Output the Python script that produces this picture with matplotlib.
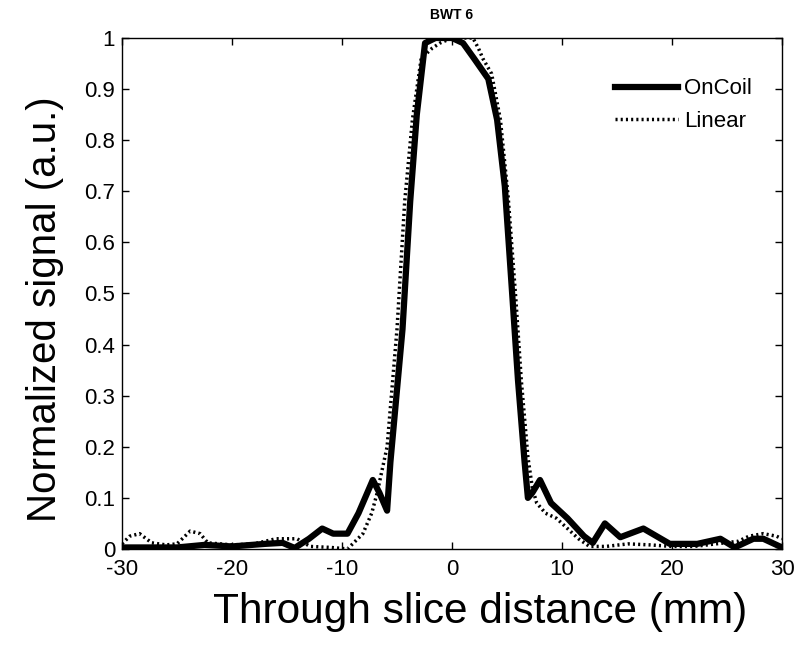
import matplotlib
matplotlib.use("Agg")
import matplotlib.pyplot as plt

plt.rcParams['font.family'] = ['Liberation Sans', 'DejaVu Sans']
plt.rcParams['axes.unicode_minus'] = False

oncoil_x = [-30, -27, -25, -22.5, -20, -17, -15.4, -14.3, -13, -11.8, -10.8, -9.5, -8.5, -7.2, -6.6,
            -5.9, -5.6, -4.5, -3.8, -3.2, -2.45, -1.5, 0, 1.0, 2.0, 3.3, 4.1, 4.8, 5.5, 6.0, 6.6, 6.9,
            7.3, 8.0, 9.0, 10.5, 12.0, 12.8, 13.9, 15.3, 17.4, 19.8, 22.3, 24.4, 25.7, 27.4, 28.3, 30]
oncoil_y = [0.003, 0.003, 0.003, 0.008, 0.005, 0.01, 0.012, 0.002, 0.02, 0.04, 0.03, 0.03, 0.07, 0.135, 0.11,
            0.075, 0.17, 0.43, 0.68, 0.85, 0.99, 1.0, 1.0, 0.99, 0.96, 0.92, 0.84, 0.71, 0.49, 0.33, 0.17, 0.10,
            0.11, 0.135, 0.09, 0.06, 0.025, 0.012, 0.05, 0.023, 0.04, 0.01, 0.01, 0.02, 0.003, 0.02, 0.02, 0.003]

linear_x = [-30, -29.3, -28.4, -27.3, -26, -25, -23.8, -22.9, -22.2, -20, -18, -16, -14.1, -12.9, -11,
            -9.5, -8.1, -7.3, -6.8, -6.4, -5.9, -5.0, -4.3, -3.6, -2.8, -1.8, -1.1, 0, 1.9, 2.4, 2.8,
            3.6, 4.4, 5.1, 5.8, 6.3, 6.9, 7.3, 7.7, 8.5, 9.5, 10.5, 11.5, 12.5, 14, 16, 18, 20, 22,
            24, 26, 27, 28.3, 29.5, 30]
linear_y = [0.01, 0.025, 0.03, 0.012, 0.008, 0.01, 0.035, 0.03, 0.012, 0.008, 0.01, 0.02, 0.02, 0.005, 0.003,
            0.0, 0.03, 0.07, 0.11, 0.15, 0.2, 0.43, 0.68, 0.84, 0.96, 0.98, 0.99, 1.0, 1.0, 0.98, 0.96,
            0.93, 0.84, 0.69, 0.49, 0.33, 0.18, 0.12, 0.09, 0.07, 0.06, 0.04, 0.02, 0.005, 0.005, 0.01, 0.008, 0.005, 0.005,
            0.01, 0.015, 0.025, 0.03, 0.025, 0.02]

x_ticks = [-30, -20, -10, 0, 10, 20, 30]
y_ticks = [0, 0.1, 0.2, 0.3, 0.4, 0.5, 0.6, 0.7, 0.8, 0.9, 1]
y_tick_labels = ["0", "0.1", "0.2", "0.3", "0.4", "0.5", "0.6", "0.7", "0.8", "0.9", "1"]

fig = plt.figure(figsize=(8, 6.48), dpi=100)
ax = fig.add_axes([0.1525, 0.1528, 0.825, 0.7886])

ax.plot(linear_x, linear_y, color='black', lw=2.5, linestyle=(0, (0.6, 0.9)), label='Linear', zorder=2)
ax.plot(oncoil_x, oncoil_y, color='black', lw=4.5, label='OnCoil', zorder=3)

ax.set_xlim(-30, 30)
ax.set_ylim(0, 1)
ax.set_xticks(x_ticks)
ax.set_yticks(y_ticks)
ax.set_yticklabels(y_tick_labels)
ax.tick_params(direction='in', length=5, width=1, top=True, right=True, labelsize=16)
ax.tick_params(axis='x', pad=7)
ax.tick_params(axis='y', pad=5)
for s in ax.spines.values():
    s.set_linewidth(1)

ax.set_title('BWT 6', fontsize=10, fontweight='bold', pad=14)
ax.set_xlabel('Through slice distance (mm)', fontsize=30.5)
ax.set_ylabel('Normalized signal (a.u.)', fontsize=29)

# label placement (pixel positions converted to axes fractions)
fig_h = fig.dpi * 6.48
inv = ax.transAxes.inverted()
ax.xaxis.set_label_coords(0.542, inv.transform((0, fig_h - 612))[1], transform=ax.transAxes)
ax.xaxis.label.set_verticalalignment('center')
ax.yaxis.set_label_coords(inv.transform((45, 0))[0], 0.47, transform=ax.transAxes)
ax.yaxis.label.set_verticalalignment('center')

handles, labels = ax.get_legend_handles_labels()
ax.legend([handles[1], handles[0]], [labels[1], labels[0]], loc='upper right', frameon=False,
          fontsize=16, handlelength=2.8, handletextpad=0.3, bbox_to_anchor=(0.985, 0.96), labelspacing=0.5)

fig.savefig('out.png', dpi=100)
